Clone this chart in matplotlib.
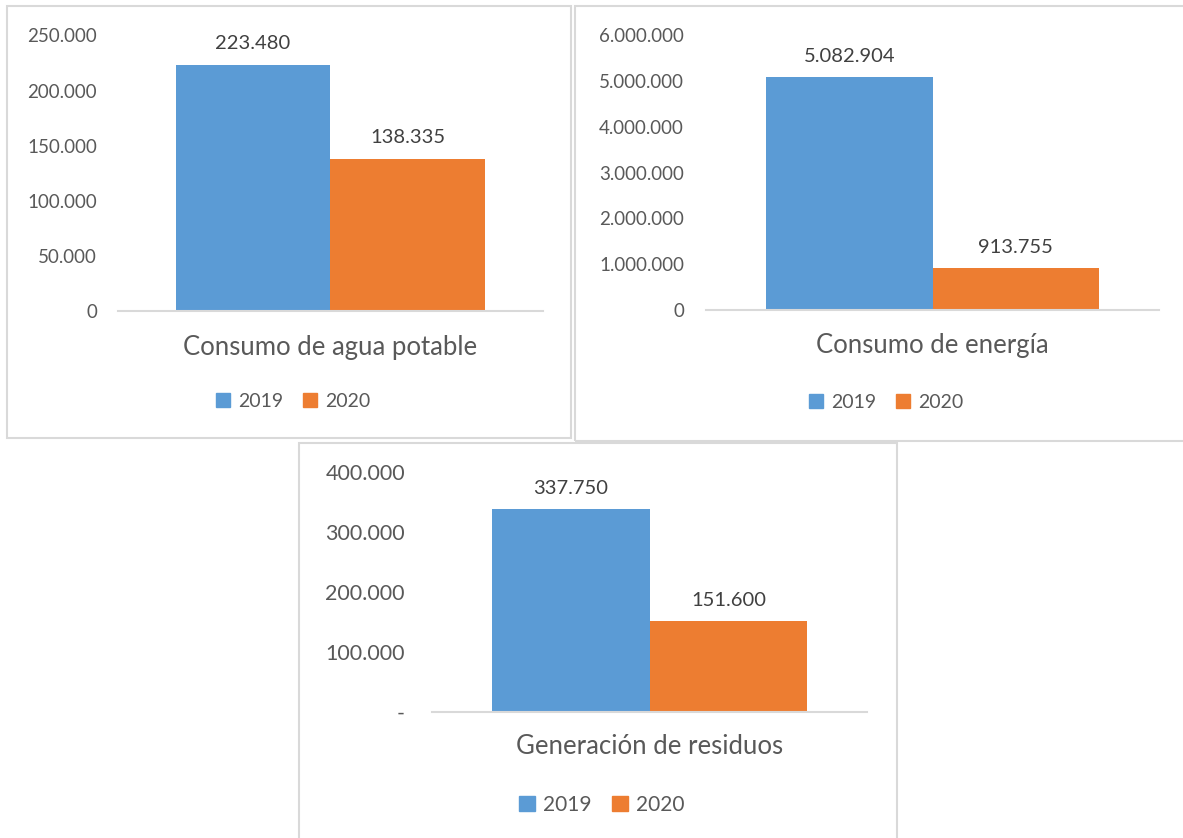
import matplotlib
matplotlib.use("Agg")
import matplotlib.pyplot as plt
from matplotlib.patches import Rectangle, Patch

plt.rcParams['font.family'] = ['Lato', 'DejaVu Sans']

W, H = 1183, 838

# data
years = ['2019', '2020']
titles = ['Consumo de agua potable', 'Consumo de energía', 'Generación de residuos']
agua = [223480, 138335]
energia = [5082904, 913755]
residuos = [337750, 151600]

agua_ticks = [0, 50000, 100000, 150000, 200000, 250000]
energia_ticks = [0, 1000000, 2000000, 3000000, 4000000, 5000000, 6000000]
residuos_ticks = [0, 100000, 200000, 300000, 400000]

blue = '#5B9BD5'
orange = '#ED7D31'
grey = '#595959'
dark = '#404040'


def fmt(v):
    return f'{v:,}'.replace(',', '.')


def px_rect(l, t, r, b):
    return [l / W, 1 - b / H, (r - l) / W, (b - t) / H]


fig = plt.figure(figsize=(W / 100, H / 100), dpi=100)

# panel borders
for (l, t, r, b) in [(7, 6, 571, 438), (575, 6, 1190, 441), (299, 443, 897, 850)]:
    fig.patches.append(Rectangle((l / W, 1 - b / H), (r - l) / W, (b - t) / H,
                                 transform=fig.transFigure, fill=False,
                                 edgecolor='#d9d9d9', linewidth=1.5))

panels = [
    # values, ticks, axes rect (px), half span, pad px, title pos, legend pos, sizes, zero label
    (agua, agua_ticks, (118, 35.5, 543, 311.5), 1.371, 21, (330, 347), (293, 401), (13.5, 14.5, 18.5, 14), '0'),
    (energia, energia_ticks, (706, 35, 1159, 310), 1.361, 22, (932, 345), (886, 402), (13.5, 14.5, 18.5, 14), '0'),
    (residuos, residuos_ticks, (432, 472, 867, 712), 1.377, 27, (650, 746), (602, 805), (15.5, 14.5, 18.5, 15), '-'),
]

for i, (vals, ticks, rect, half, pad, tpos, lpos, sizes, zero) in enumerate(panels):
    tick_fs, lab_fs, title_fs, leg_fs = sizes
    ax = fig.add_axes(px_rect(*rect))
    bars = ax.bar([-0.5, 0.5], vals, width=1.0, color=[blue, orange])
    for b, v in zip(bars, vals):
        ax.annotate(fmt(v), (b.get_x() + b.get_width() / 2, v), xytext=(0, 9),
                    textcoords='offset points', ha='center', va='bottom',
                    fontsize=lab_fs, color=dark)
    ax.set_xlim(-half, half)
    ax.set_ylim(0, ticks[-1])
    ax.set_yticks(ticks)
    ax.set_yticklabels([zero] + [fmt(t) for t in ticks[1:]])
    ax.set_xticks([])
    ax.tick_params(axis='y', length=0, pad=pad * 0.72, labelsize=tick_fs, labelcolor=grey)
    for s in ['left', 'right', 'top']:
        ax.spines[s].set_visible(False)
    ax.spines['bottom'].set_color('#d9d9d9')
    ax.spines['bottom'].set_linewidth(1.5)
    fig.text(tpos[0] / W, 1 - tpos[1] / H, titles[i], ha='center', va='center',
             fontsize=title_fs, color=grey)
    handles = [Patch(color=blue), Patch(color=orange)]
    fig.legend(handles, years, loc='center', bbox_to_anchor=(lpos[0] / W, 1 - lpos[1] / H),
               ncol=2, frameon=False, fontsize=leg_fs, labelcolor=grey,
               handlelength=0.75, handleheight=0.75, handletextpad=0.4, columnspacing=1.0)

fig.savefig('out.png', dpi=100)
